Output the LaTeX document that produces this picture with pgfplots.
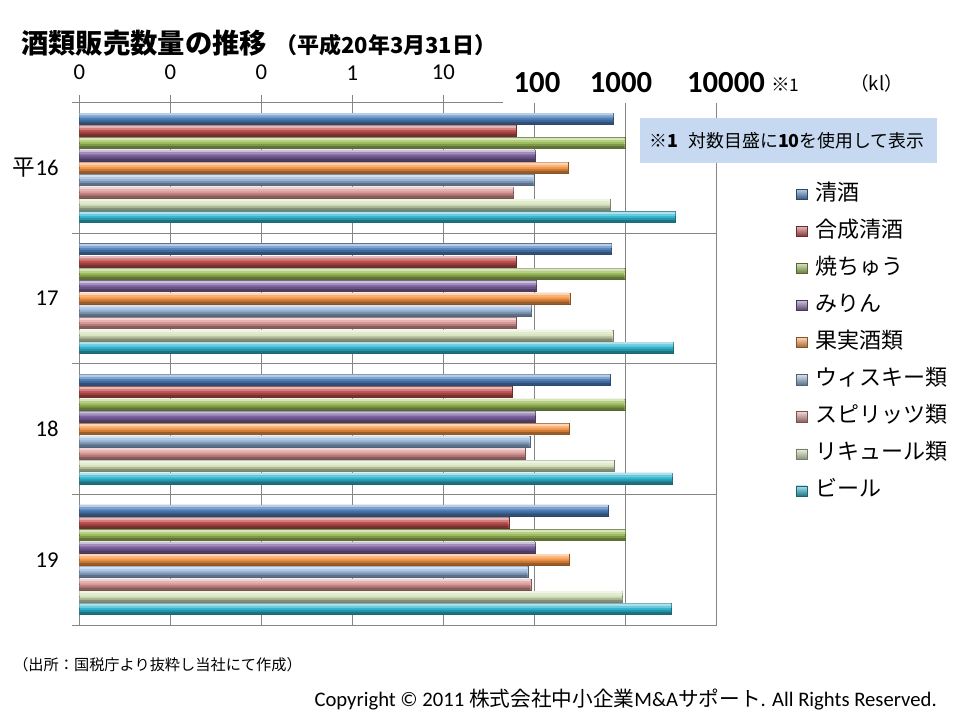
\documentclass[border=0pt]{standalone}
\usepackage{pgfplots}
\pgfplotsset{compat=1.18}
\usepackage{pgfplotstable}
\usepackage{fontspec}
\setmainfont{Carlito}
\newfontfamily\cjk{Noto Sans CJK JP}

\definecolor{cA}{HTML}{4F81BD}
\definecolor{cB}{HTML}{C0504D}
\definecolor{cC}{HTML}{9BBB59}
\definecolor{cD}{HTML}{8064A2}
\definecolor{cE}{HTML}{F79646}
\definecolor{cF}{HTML}{95B3D7}
\definecolor{cG}{HTML}{D99694}
\definecolor{cH}{HTML}{D7E4BD}
\definecolor{cI}{HTML}{31B6CF}
\definecolor{gridc}{HTML}{868686}
\definecolor{boxc}{HTML}{C6D9F1}

\pgfplotstableread{
g seishu gousei shochu mirin kajitsu whisky spirits liqueur beer
0 738 62.5 985 102.6 233 98.5 58.8 679 3543
1 708 62.5 985 105 245 92.7 62.5 727 3368
2 679 56.5 985 102.6 239 89 78.5 746 3280
3 646 52.3 1000 102.6 239 84.6 91.3 935 3200
}\datatable

% #1 colour, #2 column, #3 base shift, #4..#7 band shifts
\newcommand\sbars[7]{%
  \addplot[fill=#1, draw=#1!55!black, line width=0.3pt, bar width=0.0842, bar shift=#3,
    legend image code/.code={\draw[draw=#1!55!black, line width=0.3pt,
      top color=#1!40!white, middle color=#1, bottom color=#1!65!black]
      (0pt,-3.8pt) rectangle (8pt,3.8pt);}]
    table[x=#2,y=g]{\datatable};
  \addplot[forget plot, fill=#1!40!white, draw=none, bar width=0.0191, bar shift=#4]
    table[x=#2,y=g]{\datatable};
  \addplot[forget plot, fill=#1!72!white, draw=none, bar width=0.0153, bar shift=#5]
    table[x=#2,y=g]{\datatable};
  \addplot[forget plot, fill=#1!82!black, draw=none, bar width=0.0153, bar shift=#6]
    table[x=#2,y=g]{\datatable};
  \addplot[forget plot, fill=#1!62!black, draw=none, bar width=0.0191, bar shift=#7]
    table[x=#2,y=g]{\datatable};
}

\begin{document}
\begin{tikzpicture}
\useasboundingbox (0,0) rectangle (720pt,540pt);
\fill[white] (0,0) rectangle (720pt,540pt);
\begin{axis}[
  at={(59.5pt,71.25pt)}, anchor=south west,
  scale only axis, width=477.75pt, height=391.9pt,
  xmode=log, log basis x=10, xmin=0.001, xmax=10000, log origin x=infty,
  ymin=-0.5, ymax=3.5, y dir=reverse,
  xbar, bar width=0.0842,
  xtick={0.001,0.01,0.1,1,10,100,1000,10000},
  xticklabels={0,0,0,1,10,{},{},{}},
  xtick pos=upper, xticklabel pos=upper,
  minor x tick num=0,
  tick align=outside,
  major tick length=5.25pt,
  xmajorgrids, ymajorgrids,
  ytick={-0.5,0.5,1.5,2.5,3.5}, yticklabels={},
  ytick pos=left,
  extra y ticks={0,1,2,3},
  extra y tick labels={{\cjk 平}16,17,18,19},
  extra y tick style={major tick length=0pt, grid=none,
     yticklabel style={xshift=-12pt}},
  axis line style={gridc, line width=0.6pt},
  grid style={gridc, line width=0.6pt},
  tick style={gridc, line width=0.6pt},
  tick label style={font=\fontsize{17}{20}\selectfont, text=black},
  xticklabel style={yshift=8pt},
  legend style={at={(1.1251,0.8433)}, anchor=north west, draw=none, fill=none,
    inner sep=0pt, outer sep=0pt,
    nodes={inner sep=0pt, text height=12pt, text depth=3pt},
    row sep=12.8pt, column sep=6pt,
    font=\cjk\fontsize{16.5}{18}\selectfont},
  legend cell align=left,
]
\sbars{cA}{seishu}{-0.3768}{-0.4093}{-0.3921}{-0.3615}{-0.3443}
\sbars{cB}{gousei}{-0.2826}{-0.3151}{-0.2979}{-0.2673}{-0.2501}
\sbars{cC}{shochu}{-0.1884}{-0.2209}{-0.2037}{-0.1731}{-0.1559}
\sbars{cD}{mirin}{-0.0942}{-0.1267}{-0.1095}{-0.0789}{-0.0617}
\sbars{cE}{kajitsu}{0}{-0.0325}{-0.0153}{0.0153}{0.0325}
\sbars{cF}{whisky}{0.0942}{0.0617}{0.0789}{0.1095}{0.1267}
\sbars{cG}{spirits}{0.1884}{0.1559}{0.1731}{0.2037}{0.2209}
\sbars{cH}{liqueur}{0.2826}{0.2501}{0.2673}{0.2979}{0.3151}
\sbars{cI}{beer}{0.3768}{0.3443}{0.3615}{0.3921}{0.4093}
\legend{清酒,合成清酒,焼ちゅう,みりん,果実酒類,ウィスキー類,スピリッツ類,リキュール類,ビール}
\end{axis}
\begin{scope}[yshift=540pt, x=0.75pt, y=-0.75pt]
  \fill[white] (503,56) rectangle (770,103.2);
  \node[anchor=west, inner sep=0pt] at (21,43)
    {\cjk\bfseries\fontsize{20.5}{22}\selectfont 酒類販売数量の推移\hspace{6pt}\fontsize{16.5}{18}\selectfont（平成20年3月31日）};
  \node[inner sep=0pt, font=\bfseries\fontsize{23}{25}\selectfont] at (537,83) {100};
  \node[inner sep=0pt, font=\bfseries\fontsize{23}{25}\selectfont] at (621,83) {1000};
  \node[inner sep=0pt, font=\bfseries\fontsize{23}{25}\selectfont] at (726,83) {10000};
  \node[anchor=west, inner sep=0pt] at (771,85) {\cjk\fontsize{14}{16}\selectfont ※\fontsize{13}{15}\selectfont 1};
  \node[anchor=west, inner sep=0pt] at (850,83) {\cjk\fontsize{14}{16}\selectfont （kl）};
  \fill[boxc] (640,118) rectangle (937,163);
  \node[anchor=west, inner sep=0pt] at (649,140.5)
    {\cjk\fontsize{13.4}{15}\selectfont ※\textbf{1}\hspace{0.6em}対数目盛に\textbf{10}を使用して表示};
  \node[anchor=west, inner sep=0pt] at (13,665)
    {\cjk\fontsize{11.4}{13}\selectfont （出所：国税庁より抜粋し当社にて作成）};
  \node[anchor=east, inner sep=0pt] at (937,700)
    {\fontsize{15.5}{17}\selectfont Copyright © 2011 {\cjk 株式会社中小企業}M\&A{\cjk サポート}. All Rights Reserved.};
\end{scope}
\end{tikzpicture}
\end{document}
